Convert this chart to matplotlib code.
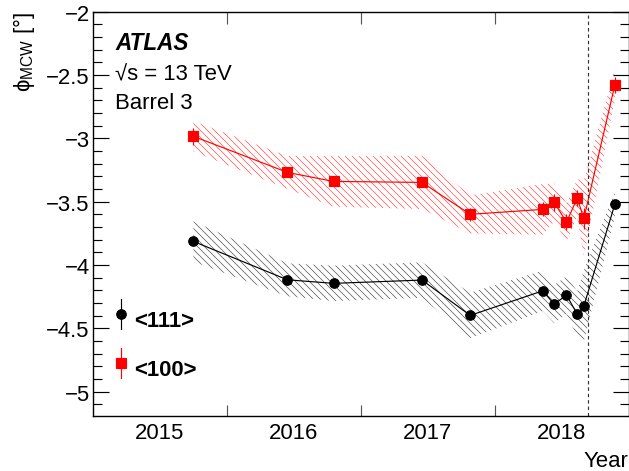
import matplotlib
matplotlib.use('Agg')
import matplotlib.pyplot as plt
from matplotlib.ticker import FixedLocator, FixedFormatter, MultipleLocator, NullFormatter

# ---------------- data ----------------
years = [2015.752, 2016.454, 2016.798, 2017.459, 2017.818, 2018.360,
         2018.445, 2018.537, 2018.617, 2018.667, 2018.898]

phi_111 = [-3.814, -4.117, -4.145, -4.119, -4.398, -4.204,
           -4.309, -4.238, -4.388, -4.322, -3.521]
err_111 = [0.03, 0.03, 0.03, 0.03, 0.03, 0.03, 0.03, 0.03, 0.03, 0.03, 0.03]
band_111 = [0.16, 0.13, 0.14, 0.14, 0.18, 0.16, 0.15, 0.15, 0.18, 0.28, 0.10]

phi_100 = [-2.984, -3.269, -3.340, -3.348, -3.600, -3.561,
           -3.506, -3.661, -3.474, -3.632, -2.579]
err_100 = [0.065, 0.04, 0.04, 0.04, 0.05, 0.055, 0.07, 0.063, 0.063, 0.08, 0.066]
band_100 = [0.12, 0.13, 0.20, 0.21, 0.15, 0.20, 0.15, 0.15, 0.15, 0.30, 0.12]

year_labels = ['2015', '2016', '2017', '2018']
year_label_pos = [2015.5, 2016.5, 2017.5, 2018.5]
year_ticks = [2016, 2017, 2018]
y_ticks = [-2.0, -2.5, -3.0, -3.5, -4.0, -4.5, -5.0]
y_tick_labels = ['\u22122', '\u22122.5', '\u22123', '\u22123.5', '\u22124', '\u22124.5', '\u22125']
series_labels = ['<111>', '<100>']
vline_year = 2018.70

# ---------------- style ----------------
DPI = 84
W, H = 629, 472
plt.rcParams['font.family'] = ['Liberation Sans', 'DejaVu Sans']
plt.rcParams['mathtext.fontset'] = 'custom'
plt.rcParams['mathtext.rm'] = 'Liberation Sans'
plt.rcParams['mathtext.it'] = 'Liberation Sans:italic'
plt.rcParams['mathtext.bf'] = 'Liberation Sans:bold'
plt.rcParams['hatch.linewidth'] = 0.6

FS = 19

fig = plt.figure(figsize=(W / DPI, H / DPI), dpi=DPI)
ax = fig.add_axes([92.7 / W, (H - 416.7) / H, (628.5 - 92.7) / W, 404.0 / H])

def px2pt(p):
    return p * 72.0 / DPI

# bands
ax.fill_between(years, [p - b for p, b in zip(phi_111, band_111)],
                [p + b for p, b in zip(phi_111, band_111)],
                facecolor='none', edgecolor='#555555', hatch='\\\\\\\\', linewidth=0, zorder=1)
ax.fill_between(years, [p - b for p, b in zip(phi_100, band_100)],
                [p + b for p, b in zip(phi_100, band_100)],
                facecolor='none', edgecolor='#ff5050', hatch='\\\\\\\\', linewidth=0, zorder=1)

# lines
ax.plot(years, phi_111, color='black', lw=1.0, zorder=2)
ax.plot(years, phi_100, color='red', lw=1.0, zorder=2)

# points with errors
ax.errorbar(years, phi_111, yerr=err_111, fmt='o', color='black', ms=px2pt(9.5),
            elinewidth=1.0, capsize=0, zorder=3)
ax.errorbar(years, phi_100, yerr=err_100, fmt='s', color='red', ms=px2pt(9.5),
            elinewidth=1.0, capsize=0, zorder=3)

# dashed vertical line
ax.axvline(vline_year, ymin=0, ymax=0.992, color='#333333', lw=1.0,
           ls=(0, (3, 2.5)), zorder=2)

ax.set_xlim(2015, 2019)
ax.set_ylim(-5.19, -2.0)

# x ticks: boundaries (major, no label), labels at mid-year (minor, no tick)
ax.xaxis.set_major_locator(FixedLocator(year_ticks))
ax.xaxis.set_major_formatter(NullFormatter())
ax.xaxis.set_minor_locator(FixedLocator(year_label_pos))
ax.xaxis.set_minor_formatter(FixedFormatter(year_labels))
ax.tick_params(axis='x', which='major', direction='in', length=px2pt(11.5), width=1.0,
               top=True, bottom=True, color='#555555')
ax.tick_params(axis='x', which='minor', length=0, pad=px2pt(6.5), labelsize=FS)

ax.yaxis.set_major_locator(FixedLocator(y_ticks))
ax.yaxis.set_major_formatter(FixedFormatter(y_tick_labels))
ax.yaxis.set_minor_locator(MultipleLocator(0.1))
ax.tick_params(axis='y', which='major', direction='in', length=px2pt(16), width=1.0,
               left=True, right=True, labelsize=FS, pad=px2pt(3))
ax.tick_params(axis='y', which='minor', direction='in', length=px2pt(9), width=1.0,
               left=True, right=True)

for s in ax.spines.values():
    s.set_linewidth(1.2)

ax.set_xlabel('Year', loc='right', fontsize=FS, labelpad=px2pt(7))
ax.set_ylabel('\u03d5$_{\\mathregular{MCW}}$ [\u00b0]', loc='top', fontsize=FS,
              labelpad=px2pt(9))

# annotations
ax.text(0.0417, 0.9077, 'ATLAS', transform=ax.transAxes, fontsize=FS + 0.3,
        fontweight='bold', fontstyle='italic', va='baseline', ha='left')
ax.text(0.0417, 0.8334, '\u221as = 13 TeV', transform=ax.transAxes, fontsize=FS,
        va='baseline', ha='left')
ax.text(0.0417, 0.7616, 'Barrel 3', transform=ax.transAxes, fontsize=FS,
        va='baseline', ha='left')

# legend (manual, in axes coordinates)
leg = [(0.0529, 0.2517, 'black', 'o', px2pt(9.5), series_labels[0]),
       (0.0529, 0.1304, 'red', 's', px2pt(9.5), series_labels[1])]
for lx, ly, c, m, ms, lab in leg:
    ax.plot([lx, lx], [ly - 0.037, ly + 0.037], color=c, lw=1.0, transform=ax.transAxes,
            clip_on=False)
    ax.plot([lx], [ly], marker=m, color=c, ms=ms, transform=ax.transAxes, clip_on=False)
    ax.text(lx + 0.024, ly - 0.017, lab, transform=ax.transAxes, fontsize=FS,
            fontweight='bold', va='center', ha='left')

fig.savefig('out.png', dpi=DPI)
